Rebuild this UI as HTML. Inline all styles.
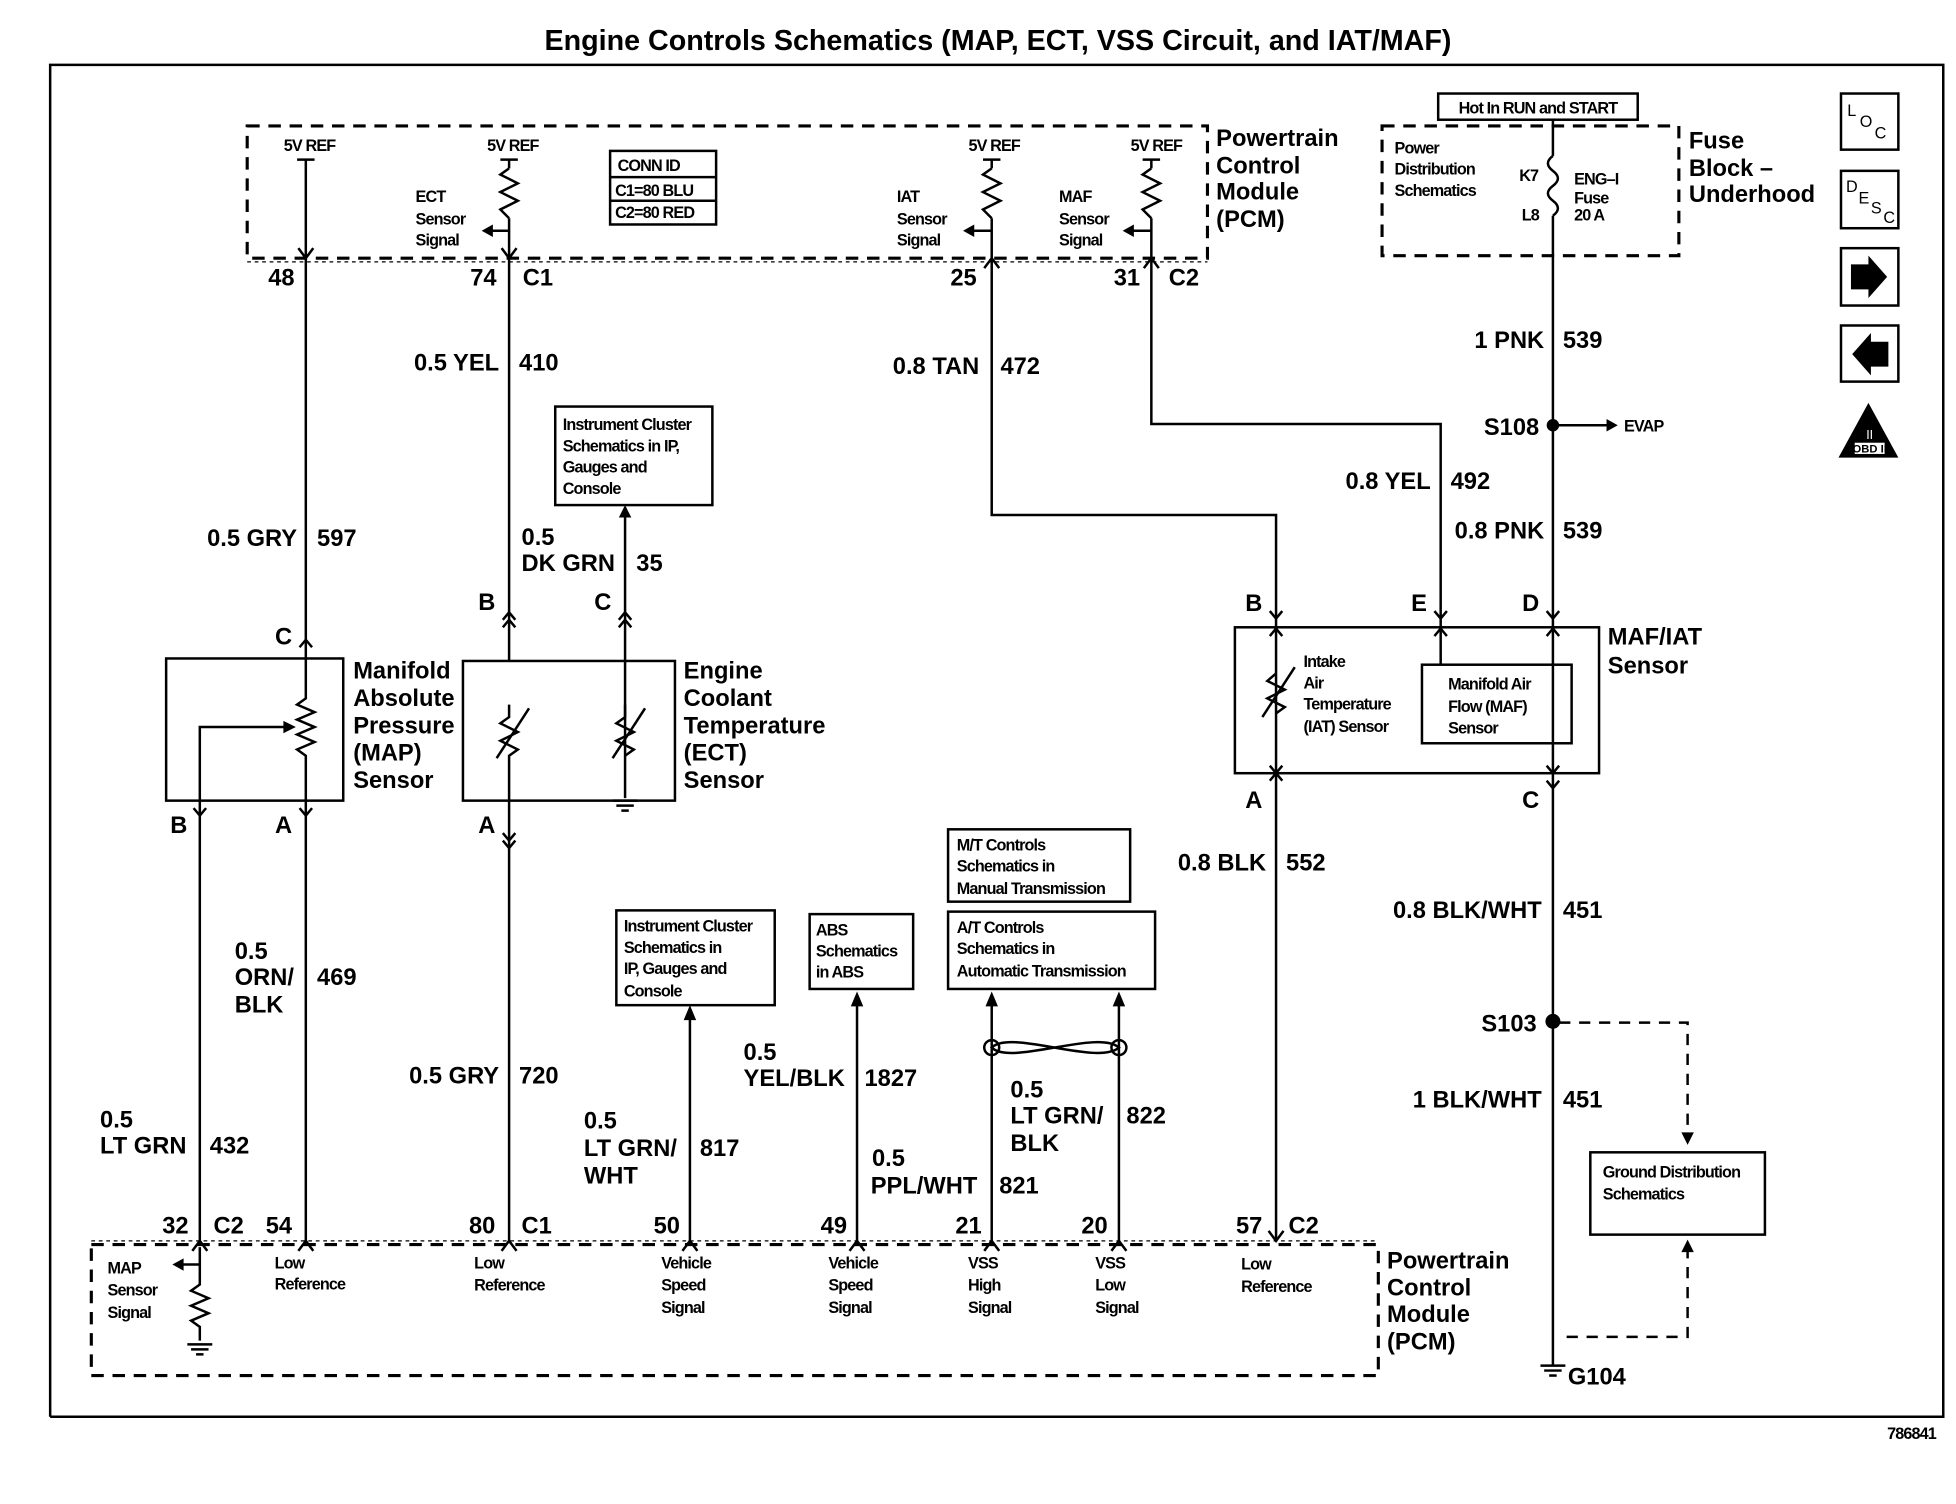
<!DOCTYPE html>
<html><head><meta charset="utf-8"><style>
html,body{margin:0;padding:0;background:#fff}
svg{display:block}
text{font-family:"Liberation Sans",Arial,sans-serif;fill:#000}
.L{font-size:19px;font-weight:600}
.S{font-size:13px;letter-spacing:-0.7px;font-weight:bold}
</style></head><body>
<svg width="1956" height="1504" viewBox="0 0 1568 1206" xmlns="http://www.w3.org/2000/svg">
<g fill="none" stroke="#000" stroke-width="2">
<polyline points="40,1136 40,52 1558,52 1558,1136 40,1136" />
<rect x="198" y="101" width="770" height="106" stroke-dasharray="10,7" stroke-width="2.5"/>
<rect x="1108" y="101" width="238" height="104" stroke-dasharray="10,7" stroke-width="2.5"/>
<rect x="73" y="998" width="1032" height="105" stroke-dasharray="10,7" stroke-width="2.5"/>
<line x1="198" y1="210" x2="968" y2="210" stroke-dasharray="3,3" stroke-width="1"/>
<line x1="73" y1="995" x2="1105" y2="995" stroke-dasharray="3,3" stroke-width="1"/>
<rect x="1153" y="75" width="160" height="21"/>
<line x1="1245" y1="96" x2="1245" y2="125"/>
<path d="M1245 125 q-8 6 0 12 q8 6 0 12 M1245 149 q-8 6 0 12 q8 6 0 12" />
<line x1="1245" y1="173" x2="1245" y2="1095"/>
<rect x="489" y="121" width="85" height="59"/>
<line x1="489" y1="142" x2="574" y2="142"/><line x1="489" y1="161" x2="574" y2="161"/>
<line x1="245" y1="128" x2="245" y2="528"/>
<line x1="238" y1="128" x2="252" y2="128"/>
<line x1="408" y1="128" x2="408" y2="135"/><line x1="401" y1="128" x2="415" y2="128"/>
<polyline points="408,135 401,140 415,147 401,154 415,161 401,168 408,175"/>
<line x1="408" y1="175" x2="408" y2="530"/>
<line x1="408" y1="185" x2="392" y2="185"/>
<line x1="795" y1="128" x2="795" y2="135"/><line x1="788" y1="128" x2="802" y2="128"/>
<polyline points="795,135 788,140 802,147 788,154 802,161 788,168 795,175"/>
<polyline points="795,175 795,413 1023,413 1023,503"/>
<line x1="795" y1="185" x2="778" y2="185"/>
<line x1="923" y1="128" x2="923" y2="135"/><line x1="916" y1="128" x2="930" y2="128"/>
<polyline points="923,135 916,140 930,147 916,154 930,161 916,168 923,175"/>
<polyline points="923,175 923,340 1155,340 1155,503"/>
<line x1="923" y1="185" x2="906" y2="185"/>
<rect x="133" y="528" width="142" height="114"/>
<polyline points="245,528 245,560 238,565 252,571 238,577 252,583 238,589 252,595 238,601 245,606 245,642"/>
<polyline points="160,642 160,583 232,583"/>
<line x1="160" y1="642" x2="160" y2="995"/>
<line x1="245" y1="642" x2="245" y2="995"/>
<rect x="371" y="530" width="170" height="112"/>
<line x1="408" y1="642" x2="408" y2="995"/>
<polyline points="408,565 408,575 401,580 415,587 401,594 415,601 408,606 408,642"/>
<line x1="398" y1="608" x2="424" y2="568"/>
<line x1="501" y1="407" x2="501" y2="640"/>
<polyline points="501,565 501,575 494,580 508,587 494,594 508,601 501,606"/>
<line x1="491" y1="608" x2="517" y2="568"/>
<line x1="491" y1="642" x2="511" y2="642"/><line x1="494" y1="646" x2="508" y2="646"/><line x1="498" y1="650" x2="504" y2="650"/>
<rect x="445" y="326" width="126" height="79"/>
<rect x="990" y="503" width="292" height="117"/>
<rect x="1140" y="533" width="120" height="63"/>
<line x1="1023" y1="503" x2="1023" y2="995"/>
<polyline points="1023,540 1016,546 1030,553 1016,560 1030,567 1023,572"/>
<line x1="1012" y1="575" x2="1038" y2="535"/>
<line x1="1155" y1="503" x2="1155" y2="533"/>
<polyline points="1250,820 1353,820 1353,912" stroke-dasharray="9,7"/>
<polyline points="1353,1000 1353,1072 1250,1072" stroke-dasharray="9,7"/>
<rect x="1275" y="924" width="140" height="66"/>
<rect x="494" y="730" width="127" height="76"/>
<line x1="553" y1="812" x2="553" y2="995"/>
<rect x="649" y="733" width="83" height="60"/>
<line x1="687" y1="800" x2="687" y2="995"/>
<rect x="760" y="665" width="146" height="58"/>
<rect x="760" y="731" width="166" height="62"/>
<line x1="795" y1="800" x2="795" y2="995"/>
<line x1="897" y1="800" x2="897" y2="995"/>
<path d="M795 840 C810 825 880 855 897 840 C880 825 810 855 795 840 Z"/>
<ellipse cx="795" cy="840" rx="6" ry="6"/><ellipse cx="897" cy="840" rx="6" ry="6"/>
<polyline points="160,1000 160,1030 153,1035 167,1041 153,1047 167,1053 153,1059 160,1064 160,1075"/>
<line x1="160" y1="1014" x2="144" y2="1014"/>
<line x1="150" y1="1078" x2="170" y2="1078"/><line x1="153" y1="1082" x2="167" y2="1082"/><line x1="157" y1="1086" x2="163" y2="1086"/>
<line x1="1235" y1="1095" x2="1255" y2="1095"/><line x1="1238" y1="1099" x2="1252" y2="1099"/><line x1="1242" y1="1103" x2="1248" y2="1103"/>
<line x1="1245" y1="341" x2="1290" y2="341"/>
<path d="M239 199 L245 207 L251 199 M402 199 L408 207 L414 199 M789 215 L795 207 L801 215 M917 215 L923 207 L929 215"/>
<path d="M154 1003 L160 995 L166 1003 M239 1003 L245 995 L251 1003 M402 1003 L408 995 L414 1003 M547 1003 L553 995 L559 1003 M681 1003 L687 995 L693 1003 M789 1003 L795 995 L801 1003 M891 1003 L897 995 L903 1003 M1017 987 L1023 995 L1029 987"/>
<path d="M240 519 L245 513 L250 519 M403 497 L408 491 L413 497 M403 503 L408 497 L413 503 M496 497 L501 491 L506 497 M496 503 L501 497 L506 503
M155 648 L160 654 L165 648 M240 648 L245 654 L250 648 M403 668 L408 674 L413 668 M403 674 L408 680 L413 674
M1018 490 L1023 496 L1028 490 M1150 490 L1155 496 L1160 490 M1240 490 L1245 496 L1250 490
M1018 626 L1023 620 L1028 626 M1240 626 L1245 632 L1250 626
M1018 510 L1023 504 L1028 510 M1240 510 L1245 504 L1250 510 M1150 510 L1155 504 L1160 510 M1018 614 L1023 620 L1028 614 M1240 614 L1245 620 L1250 614"/>
<rect x="1476" y="75" width="46" height="45"/><rect x="1476" y="137" width="46" height="46"/>
<rect x="1476" y="199" width="46" height="46"/><rect x="1476" y="261" width="46" height="45"/>
</g>
<g fill="#000">
<circle cx="1245" cy="341" r="5"/><circle cx="1245" cy="819" r="6"/>
<polygon points="1297,341 1288,336 1288,346"/>
<polygon points="1353,918 1348,908 1358,908"/>
<polygon points="1353,994 1348,1004 1358,1004"/>
<polygon points="501,405 496,415 506,415"/>
<polygon points="553,806 548,818 558,818"/>
<polygon points="687,795 682,807 692,807"/>
<polygon points="795,795 790,807 800,807"/>
<polygon points="897,795 892,807 902,807"/>
<polygon points="386,185 395,180 395,190"/>
<polygon points="772,185 781,180 781,190"/>
<polygon points="900,185 909,180 909,190"/>
<polygon points="138,1014 147,1009 147,1019"/>
<polygon points="237,583 227,578 227,588"/>
<polygon points="1484,212 1498,212 1498,205 1513,222 1498,239 1498,232 1484,232"/>
<polygon points="1514,274 1500,274 1500,267 1485,284 1500,301 1500,294 1514,294"/>
<polygon points="1498,323 1474,367 1522,367"/>
</g>
<rect x="1487" y="355" width="24" height="9" fill="#fff"/>
<text x="1499" y="363" text-anchor="middle" style="font-size:9px;font-weight:bold">OBD II</text>
<text x="1499" y="352" text-anchor="middle" style="font-size:10px;fill:#fff">II</text>
<text x="1481" y="93" style="font-size:13px">L</text><text x="1491" y="102" style="font-size:13px">O</text><text x="1503" y="111" style="font-size:13px">C</text>
<text x="1480" y="154" style="font-size:13px">D</text><text x="1490" y="163" style="font-size:13px">E</text><text x="1500" y="171" style="font-size:13px">S</text><text x="1510" y="179" style="font-size:13px">C</text>

<text x="800" y="40" text-anchor="middle" style="font-size:23px;font-weight:bold">Engine Controls Schematics (MAP, ECT, VSS Circuit, and IAT/MAF)</text>
<text x="1233" y="91" class="S" text-anchor="middle">Hot In RUN and START</text>
<g class="L">
<text x="975" y="117">Powertrain</text><text x="975" y="139">Control</text><text x="975" y="160">Module</text><text x="975" y="182">(PCM)</text>
<text x="1354" y="119">Fuse</text><text x="1354" y="141">Block –</text><text x="1354" y="162">Underhood</text>
<text x="1112" y="1017">Powertrain</text><text x="1112" y="1039">Control</text><text x="1112" y="1060">Module</text><text x="1112" y="1082">(PCM)</text>
<text x="283" y="544">Manifold</text><text x="283" y="566">Absolute</text><text x="283" y="588">Pressure</text><text x="283" y="610">(MAP)</text><text x="283" y="632">Sensor</text>
<text x="548" y="544">Engine</text><text x="548" y="566">Coolant</text><text x="548" y="588">Temperature</text><text x="548" y="610">(ECT)</text><text x="548" y="632">Sensor</text>
<text x="1289" y="517">MAF/IAT</text><text x="1289" y="540">Sensor</text>
<text x="236" y="229" text-anchor="end">48</text>
<text x="398" y="229" text-anchor="end">74</text><text x="419" y="229">C1</text>
<text x="783" y="229" text-anchor="end">25</text>
<text x="914" y="229" text-anchor="end">31</text><text x="937" y="229">C2</text>
<text x="400" y="297" text-anchor="end">0.5 YEL</text><text x="416" y="297">410</text>
<text x="785" y="300" text-anchor="end">0.8 TAN</text><text x="802" y="300">472</text>
<text x="1238" y="279" text-anchor="end">1 PNK</text><text x="1253" y="279">539</text>
<text x="1234" y="349" text-anchor="end">S108</text>
<text x="1147" y="392" text-anchor="end">0.8 YEL</text><text x="1163" y="392">492</text>
<text x="1238" y="432" text-anchor="end">0.8 PNK</text><text x="1253" y="432">539</text>
<text x="238" y="438" text-anchor="end">0.5 GRY</text><text x="254" y="438">597</text>
<text x="418" y="437">0.5</text><text x="418" y="458">DK GRN</text><text x="510" y="458">35</text>
<text x="234" y="517" text-anchor="end">C</text>
<text x="397" y="489" text-anchor="end">B</text><text x="490" y="489" text-anchor="end">C</text>
<text x="1012" y="490" text-anchor="end">B</text><text x="1144" y="490" text-anchor="end">E</text><text x="1234" y="490" text-anchor="end">D</text>
<text x="150" y="668" text-anchor="end">B</text><text x="234" y="668" text-anchor="end">A</text>
<text x="397" y="668" text-anchor="end">A</text>
<text x="1012" y="648" text-anchor="end">A</text><text x="1234" y="648" text-anchor="end">C</text>
<text x="1015" y="698" text-anchor="end">0.8 BLK</text><text x="1031" y="698">552</text>
<text x="1236" y="736" text-anchor="end">0.8 BLK/WHT</text><text x="1253" y="736">451</text>
<text x="1232" y="827" text-anchor="end">S103</text>
<text x="1236" y="888" text-anchor="end">1 BLK/WHT</text><text x="1253" y="888">451</text>
<text x="1257" y="1110">G104</text>
<text x="188" y="769">0.5</text><text x="188" y="790">ORN/</text><text x="188" y="812">BLK</text><text x="254" y="790">469</text>
<text x="80" y="904">0.5</text><text x="80" y="925">LT GRN</text><text x="168" y="925">432</text>
<text x="400" y="869" text-anchor="end">0.5 GRY</text><text x="416" y="869">720</text>
<text x="468" y="905">0.5</text><text x="468" y="927">LT GRN/</text><text x="468" y="949">WHT</text><text x="561" y="927">817</text>
<text x="596" y="850">0.5</text><text x="596" y="871">YEL/BLK</text><text x="693" y="871">1827</text>
<text x="699" y="935">0.5</text><text x="698" y="957">PPL/WHT</text><text x="801" y="957">821</text>
<text x="810" y="880">0.5</text><text x="810" y="901">LT GRN/</text><text x="810" y="923">BLK</text><text x="903" y="901">822</text>
<text x="151" y="989" text-anchor="end">32</text><text x="171" y="989">C2</text><text x="234" y="989" text-anchor="end">54</text>
<text x="397" y="989" text-anchor="end">80</text><text x="418" y="989">C1</text>
<text x="545" y="989" text-anchor="end">50</text><text x="679" y="989" text-anchor="end">49</text>
<text x="787" y="989" text-anchor="end">21</text><text x="888" y="989" text-anchor="end">20</text>
<text x="1012" y="989" text-anchor="end">57</text><text x="1033" y="989">C2</text>
</g>
<g class="S">
<text x="248" y="121" text-anchor="middle">5V REF</text><text x="411" y="121" text-anchor="middle">5V REF</text>
<text x="797" y="121" text-anchor="middle">5V REF</text><text x="927" y="121" text-anchor="middle">5V REF</text>
<text x="495" y="137">CONN ID</text><text x="493" y="157">C1=80 BLU</text><text x="493" y="175">C2=80 RED</text>
<text x="333" y="162">ECT</text><text x="333" y="180">Sensor</text><text x="333" y="197">Signal</text>
<text x="719" y="162">IAT</text><text x="719" y="180">Sensor</text><text x="719" y="197">Signal</text>
<text x="849" y="162">MAF</text><text x="849" y="180">Sensor</text><text x="849" y="197">Signal</text>
<text x="1118" y="123">Power</text><text x="1118" y="140">Distribution</text><text x="1118" y="157">Schematics</text>
<text x="1218" y="145">K7</text><text x="1220" y="177">L8</text>
<text x="1262" y="148">ENG–I</text><text x="1262" y="163">Fuse</text><text x="1262" y="177">20 A</text>
<text x="1302" y="346">EVAP</text>
<text x="451" y="345">Instrument Cluster</text><text x="451" y="362">Schematics in IP,</text><text x="451" y="379">Gauges and</text><text x="451" y="396">Console</text>
<text x="1045" y="535">Intake</text><text x="1045" y="552">Air</text><text x="1045" y="569">Temperature</text><text x="1045" y="587">(IAT) Sensor</text>
<text x="1161" y="553">Manifold Air</text><text x="1161" y="571">Flow (MAF)</text><text x="1161" y="588">Sensor</text>
<text x="767" y="682">M/T Controls</text><text x="767" y="699">Schematics in</text><text x="767" y="717">Manual Transmission</text>
<text x="767" y="748">A/T Controls</text><text x="767" y="765">Schematics in</text><text x="767" y="783">Automatic Transmission</text>
<text x="654" y="750">ABS</text><text x="654" y="767">Schematics</text><text x="654" y="784">in ABS</text>
<text x="500" y="747">Instrument Cluster</text><text x="500" y="764">Schematics in</text><text x="500" y="781">IP, Gauges and</text><text x="500" y="799">Console</text>
<text x="1285" y="944">Ground Distribution</text><text x="1285" y="962">Schematics</text>
<text x="86" y="1021">MAP</text><text x="86" y="1039">Sensor</text><text x="86" y="1057">Signal</text>
<text x="220" y="1017">Low</text><text x="220" y="1034">Reference</text>
<text x="380" y="1017">Low</text><text x="380" y="1035">Reference</text>
<text x="530" y="1017">Vehicle</text><text x="530" y="1035">Speed</text><text x="530" y="1053">Signal</text>
<text x="664" y="1017">Vehicle</text><text x="664" y="1035">Speed</text><text x="664" y="1053">Signal</text>
<text x="776" y="1017">VSS</text><text x="776" y="1035">High</text><text x="776" y="1053">Signal</text>
<text x="878" y="1017">VSS</text><text x="878" y="1035">Low</text><text x="878" y="1053">Signal</text>
<text x="995" y="1018">Low</text><text x="995" y="1036">Reference</text>
<text x="1513" y="1154">786841</text>
</g>
</svg>
</body></html>
